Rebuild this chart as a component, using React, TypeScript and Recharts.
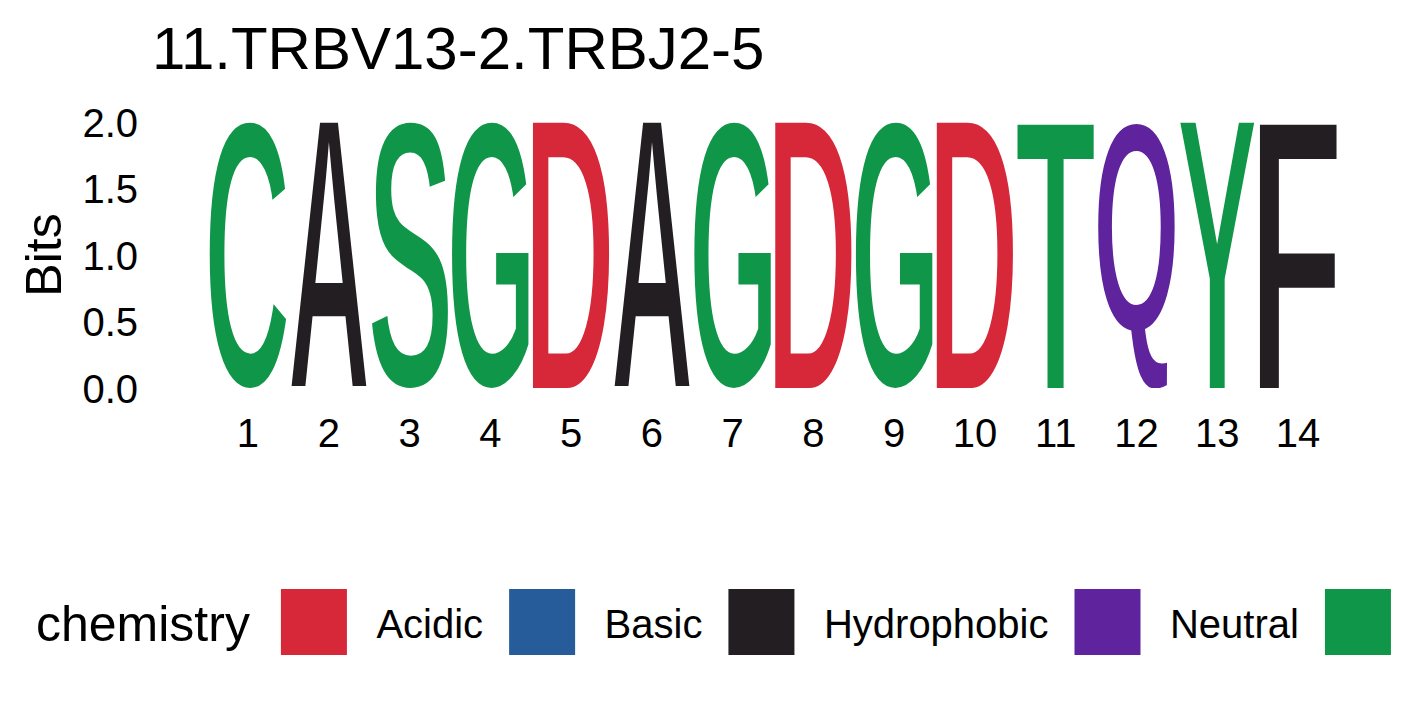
import React from 'react';
import { BarChart, Bar, XAxis, YAxis } from 'recharts';

// ---- data ----
const positions = ['1', '2', '3', '4', '5', '6', '7', '8', '9', '10', '11', '12', '13', '14'];
const letters = ['C', 'A', 'S', 'G', 'D', 'A', 'G', 'D', 'G', 'D', 'T', 'Q', 'Y', 'F'];
const bitValues = [2, 2, 2, 2, 2, 2, 2, 2, 2, 2, 2, 2, 2, 2];
const yTicks = [0, 0.5, 1, 1.5, 2];
const chemistryGroups = ['Acidic', 'Basic', 'Hydrophobic', 'Neutral', 'Polar'];
const chemistryColors = ['#D62839', '#255C99', '#221E22', '#5E239D', '#109648'];
const chemistryResidues = [
  ['D', 'E'],
  ['H', 'K', 'R'],
  ['A', 'F', 'I', 'L', 'M', 'P', 'V', 'W'],
  ['N', 'Q'],
  ['C', 'G', 'S', 'T', 'Y'],
];
const titleText = '11.TRBV13-2.TRBJ2-5';
const yLabel = 'Bits';
const legendTitle = 'chemistry';

const data = positions.map((pos, i) => ({ pos, letter: letters[i], bits: bitValues[i] }));

const FONT = "'Liberation Sans', Arial, Helvetica, sans-serif";
const GLYPH_SIZE = 200;
const THIN = 5; // white outline (glyph units) that slims the bold glyphs
const CHART_W = 1417;
const CHART_H = 708;

function colorOf(ch: string): string {
  const gi = chemistryResidues.findIndex((g) => g.includes(ch));
  return gi >= 0 ? chemistryColors[gi] : '#000';
}

let ctxCache: CanvasRenderingContext2D | null = null;
function getCtx(): CanvasRenderingContext2D | null {
  if (ctxCache) return ctxCache;
  try {
    const c = document.createElement('canvas');
    ctxCache = c.getContext('2d');
  } catch (e) {
    ctxCache = null;
  }
  return ctxCache;
}

type GM = { L: number; R: number; A: number; D: number };
const glyphCache: Record<string, GM> = {};
function glyphMetrics(ch: string): GM {
  if (glyphCache[ch]) return glyphCache[ch];
  let m: GM = { L: -0.05 * GLYPH_SIZE, R: 0.68 * GLYPH_SIZE, A: 0.716 * GLYPH_SIZE, D: 0 };
  const ctx = getCtx();
  if (ctx) {
    ctx.font = `bold ${GLYPH_SIZE}px "Liberation Sans", Arial, sans-serif`;
    const t = ctx.measureText(ch);
    if (t.actualBoundingBoxAscent !== undefined) {
      m = {
        L: t.actualBoundingBoxLeft,
        R: t.actualBoundingBoxRight,
        A: t.actualBoundingBoxAscent,
        D: t.actualBoundingBoxDescent,
      };
    }
  }
  glyphCache[ch] = m;
  return m;
}

function textWidth(s: string, size: number): number {
  const ctx = getCtx();
  if (ctx) {
    ctx.font = `${size}px "Liberation Sans", Arial, sans-serif`;
    return ctx.measureText(s).width;
  }
  return s.length * size * 0.55;
}

const LetterShape = (props: any) => {
  const { x, y, width, height, payload } = props;
  if (!payload || !(height > 0) || !(width > 0)) return <g />;
  const ch: string = payload.letter;
  const m = glyphMetrics(ch);
  // visible ink after the white outline erodes THIN/2 on every side
  const w = m.L + m.R - THIN;
  const h = m.A + m.D - THIN;
  const sx = width / w;
  const sy = height / h;
  return (
    <text
      transform={`translate(${x},${y}) scale(${sx},${sy}) translate(${m.L - THIN / 2},${m.A - THIN / 2})`}
      x={0}
      y={0}
      fontFamily={FONT}
      fontWeight="bold"
      fontSize={GLYPH_SIZE}
      fill={colorOf(ch)}
      stroke="#fff"
      strokeWidth={THIN}
      strokeLinejoin="miter"
    >
      {ch}
    </text>
  );
};

const XTick = (props: any) => {
  const { x, y, payload } = props;
  return (
    <text x={x} y={y + 59} textAnchor="middle" fontFamily={FONT} fontSize={40} fill="#000">
      {payload.value}
    </text>
  );
};

const YTick = (props: any) => {
  const { x, y, payload } = props;
  return (
    <text x={x - 69.6} y={y + 14.5} textAnchor="end" fontFamily={FONT} fontSize={40} fill="#000">
      {Number(payload.value).toFixed(1)}
    </text>
  );
};

const Legend = () => {
  const items: React.ReactNode[] = [];
  let cx = 36;
  items.push(
    <text key="lt" x={cx} y={641} fontFamily={FONT} fontSize={50} fill="#000">
      {legendTitle}
    </text>
  );
  cx += textWidth(legendTitle, 50) + 31;
  chemistryGroups.forEach((g, i) => {
    items.push(<rect key={'s' + g} x={cx} y={589} width={66} height={66} fill={chemistryColors[i]} />);
    const lx = cx + 66 + 29.5;
    // the legend runs past the figure's right edge; labels that start outside are not drawn
    if (lx < CHART_W) {
      items.push(
        <text key={'l' + g} x={lx} y={638} fontFamily={FONT} fontSize={40} fill="#000">
          {g}
        </text>
      );
    }
    cx = lx + textWidth(g, 40) + 26;
  });
  return (
    <svg width={CHART_W} height={CHART_H} style={{ position: 'absolute', left: 0, top: 0, pointerEvents: 'none' }}>
      {items}
    </svg>
  );
};

const Overlay = () => (
  <svg width={CHART_W} height={CHART_H} style={{ position: 'absolute', left: 0, top: 0, pointerEvents: 'none' }}>
    <text x={152} y={69} fontFamily={FONT} fontSize={60} fill="#000">
      {titleText}
    </text>
    <text
      x={0}
      y={0}
      transform="translate(61,255) rotate(-90)"
      textAnchor="middle"
      fontFamily={FONT}
      fontSize={50}
      fill="#000"
    >
      {yLabel}
    </text>
  </svg>
);

export default function App() {
  const plotLeft = 207.6;
  const plotRight = 1338.4;
  const plotTop = 122;
  const plotBottom = 388;
  const yAxisWidth = 60;
  const xAxisHeight = 60;
  return (
    <div
      style={{
        position: 'absolute',
        left: 0,
        top: 0,
        width: CHART_W,
        height: CHART_H,
        overflow: 'hidden',
        background: '#fff',
      }}
    >
      <BarChart
        width={CHART_W}
        height={CHART_H}
        data={data}
        barCategoryGap="2.5%"
        margin={{
          top: plotTop,
          right: CHART_W - plotRight,
          bottom: CHART_H - plotBottom - xAxisHeight,
          left: plotLeft - yAxisWidth,
        }}
      >
        <XAxis
          dataKey="pos"
          type="category"
          axisLine={false}
          tickLine={false}
          tickSize={0}
          tickMargin={0}
          height={xAxisHeight}
          interval={0}
          tick={<XTick />}
        />
        <YAxis
          type="number"
          domain={[0, 2]}
          ticks={yTicks}
          axisLine={false}
          tickLine={false}
          tickSize={0}
          tickMargin={0}
          width={yAxisWidth}
          allowDataOverflow
          tick={<YTick />}
        />
        <Bar dataKey="bits" shape={<LetterShape />} isAnimationActive={false} />
      </BarChart>
      <Overlay />
      <Legend />
    </div>
  );
}
